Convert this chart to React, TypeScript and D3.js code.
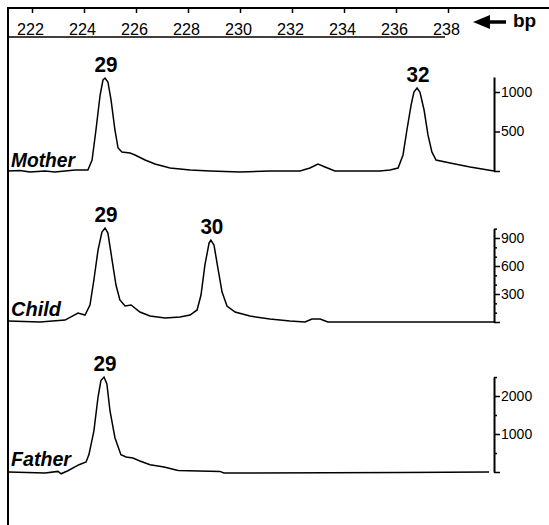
import React from 'react';
import * as d3 from 'd3';

const W = 549, H = 525;
const FONT = '"Liberation Sans", Arial, sans-serif';

// size scale (bp) along the top
const bpTicks = [222, 224, 226, 228, 230, 232, 234, 236, 238];

// Mother trace
const motherBp = [221.08, 221.54, 221.92, 222.5, 222.88, 223.27, 223.65, 224.15, 224.31, 224.46, 224.62, 224.73, 224.81, 224.92, 225.04, 225.19, 225.31, 225.46, 225.77, 225.96, 226.35, 226.73, 227.31, 228.08, 228.85, 230.0, 231.15, 232.31, 232.69, 233.0, 233.27, 233.65, 235.38, 235.77, 236.08, 236.27, 236.42, 236.58, 236.69, 236.81, 236.92, 237.08, 237.23, 237.38, 237.54, 238.08, 238.85, 239.77];
const motherRfu = [0, 6, -13, 0, -13, 0, 13, 13, 139, 519, 962, 1152, 1177, 1127, 899, 519, 291, 241, 228, 203, 139, 89, 38, 13, 0, -13, 0, 0, 38, 89, 51, 0, 0, 13, 38, 203, 519, 835, 1000, 1051, 1000, 772, 456, 241, 139, 101, 51, 0];
const motherTicks = [0, 500, 1000];
const motherMinor: number[] = [];
const motherAlleles = ['29', '32'];
const motherAlleleBp = [224.81, 236.81];

// Child trace
const childBp = [221.08, 222.31, 223.27, 223.77, 224.04, 224.23, 224.38, 224.54, 224.69, 224.81, 224.92, 225.08, 225.23, 225.38, 225.58, 225.81, 226.15, 226.54, 227.12, 227.69, 228.08, 228.35, 228.5, 228.65, 228.81, 228.88, 229.0, 229.15, 229.31, 229.5, 229.81, 230.38, 231.15, 231.92, 232.5, 232.77, 233.08, 233.38, 239.77];
const childRfu = [11, 0, 21, 96, 75, 182, 450, 771, 964, 1007, 953, 664, 396, 236, 171, 182, 107, 64, 43, 54, 75, 129, 289, 610, 846, 878, 825, 578, 321, 171, 107, 64, 32, 11, 0, 32, 32, 0, 0];
const childTicks = [0, 300, 600, 900];
const childMinor = [100, 200, 400, 500, 700, 800, 1000];
const childAlleles = ['29', '30'];
const childAlleleBp = [224.81, 228.88];

// Father trace
const fatherBp = [221.1, 222.5, 223.0, 223.12, 223.38, 223.81, 224.08, 224.19, 224.38, 224.54, 224.65, 224.77, 224.88, 225.0, 225.19, 225.42, 225.62, 225.88, 226.15, 226.54, 227.08, 227.62, 229.23, 229.38, 236.23, 239.58];
const fatherRfu = [0, -26, 16, -47, 34, 192, 263, 457, 1078, 1973, 2407, 2499, 2315, 1605, 903, 457, 395, 368, 289, 192, 131, 42, 16, -26, -10, 0];
const fatherTicks = [0, 1000, 2000];
const fatherMinor = [500, 1500, 2500];
const fatherAlleles = ['29'];
const fatherAlleleBp = [224.77];

const panels = [
  { name: 'Mother', bp: motherBp, rfu: motherRfu, ticks: motherTicks, minor: motherMinor, top: 1190, ref: 1000, base: 171, refY: 92, alleles: motherAlleles, alleleBp: motherAlleleBp, nameW: 64, nameY: 167 },
  { name: 'Child', bp: childBp, rfu: childRfu, ticks: childTicks, minor: childMinor, top: 1000, ref: 900, base: 322, refY: 238, alleles: childAlleles, alleleBp: childAlleleBp, nameW: 50, nameY: 316 },
  { name: 'Father', bp: fatherBp, rfu: fatherRfu, ticks: fatherTicks, minor: fatherMinor, top: 2500, ref: 2000, base: 472, refY: 396, alleles: fatherAlleles, alleleBp: fatherAlleleBp, nameW: 60, nameY: 466 },
];

function App() {
  const svgRef = React.useRef<SVGSVGElement>(null);

  React.useEffect(() => {
    const svg = d3.select(svgRef.current);
    svg.selectAll('*').remove();

    const x = d3.scaleLinear().domain([222, 238]).range([32, 448]);
    const axisX = x(239.77);

    // frame
    svg.append('path').attr('d', `M8,${H}V8H${W}`).attr('fill', 'none').attr('stroke', '#000').attr('stroke-width', 2);
    svg.append('line').attr('x1', 8).attr('x2', 445).attr('y1', 37).attr('y2', 37).attr('stroke', '#000').attr('stroke-width', 1.5);

    // bp scale along the top
    const top = svg.append('g').attr('transform', 'translate(0,8)')
      .call(d3.axisBottom(x).tickValues(bpTicks).tickSize(5).tickPadding(11).tickFormat(d3.format('d')));
    top.select('.domain').remove();
    top.selectAll('line').attr('stroke-width', 1.5);
    top.selectAll('text').attr('font-size', 16).attr('font-family', FONT).attr('fill', '#000').attr('dx', -2)
      .attr('textLength', 27).attr('lengthAdjust', 'spacingAndGlyphs');

    // arrow + bp
    svg.append('line').attr('x1', 486).attr('x2', 506).attr('y1', 22).attr('y2', 22).attr('stroke', '#000').attr('stroke-width', 3.5);
    svg.append('path').attr('d', 'M473,22L490,15L490,29Z').attr('fill', '#000');
    svg.append('text').attr('x', 513).attr('y', 27).attr('font-family', FONT).attr('font-weight', 'bold').attr('font-size', 19).text('bp');

    panels.forEach((p) => {
      const y = d3.scaleLinear().domain([0, p.ref]).range([p.base, p.refY]);
      const pts = p.bp.map((b, i) => [b, p.rfu[i]] as [number, number]);

      const line = d3.line<[number, number]>().x((d) => x(d[0])).y((d) => y(d[1]));
      svg.append('path').datum(pts).attr('d', line).attr('fill', 'none').attr('stroke', '#000').attr('stroke-width', 1.5);

      // right axis
      const yAxisScale = y.copy().domain([0, p.top]).range([p.base, y(p.top)]);
      const g = svg.append('g').attr('transform', `translate(${axisX},0)`)
        .call(d3.axisRight(yAxisScale).tickValues(p.ticks).tickSize(6).tickPadding(1).tickSizeOuter(0)
          .tickFormat((d) => (+d === 0 ? '' : String(d))));
      g.select('.domain').attr('stroke-width', 2);
      g.selectAll('line').attr('stroke-width', 1.5);
      g.selectAll('text').attr('font-size', 14).attr('font-family', FONT).attr('fill', '#000');
      if (p.minor.length) {
        const m = svg.append('g').attr('transform', `translate(${axisX},0)`)
          .call(d3.axisRight(yAxisScale).tickValues(p.minor).tickSize(3).tickSizeOuter(0).tickFormat(() => ''));
        m.select('.domain').remove();
        m.selectAll('line').attr('stroke-width', 1.5);
      }

      // sample name
      svg.append('text').attr('x', 11).attr('y', p.nameY)
        .attr('font-family', FONT).attr('font-weight', 'bold').attr('font-style', 'italic').attr('font-size', 21)
        .attr('textLength', p.nameW).attr('lengthAdjust', 'spacingAndGlyphs').text(p.name);

      // allele calls above peaks
      p.alleles.forEach((a, i) => {
        const idx = d3.minIndex(p.bp, (b) => Math.abs(b - p.alleleBp[i]));
        svg.append('text').attr('x', x(p.alleleBp[i]) + 1).attr('y', y(p.rfu[idx]) - 6)
          .attr('text-anchor', 'middle').attr('font-family', FONT).attr('font-weight', 'bold').attr('font-size', 22)
          .attr('textLength', 23).attr('lengthAdjust', 'spacingAndGlyphs').text(a);
      });
    });
  }, []);

  return (
    <svg ref={svgRef} width={W} height={H} style={{ position: 'absolute', left: 0, top: 0, background: '#fff' }} />
  );
}

export default App;
